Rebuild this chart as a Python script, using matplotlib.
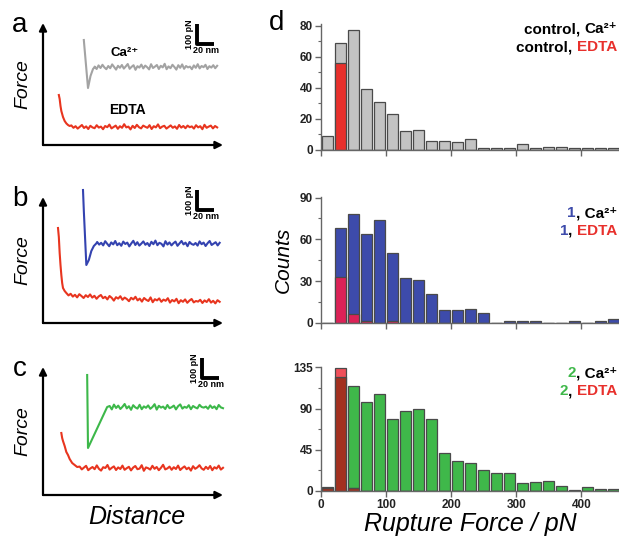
import numpy as np
import matplotlib
matplotlib.use("Agg")
import matplotlib.pyplot as plt
from matplotlib.ticker import MultipleLocator

plt.rcParams['font.family'] = ['Liberation Sans', 'DejaVu Sans']

# ---- histogram data (20 pN bins) ----
bin_centers = np.arange(10, 460, 20)
ctrl_ca = [9, 69, 77, 39, 31, 23, 12, 13, 6, 6, 5, 7, 1, 1, 1, 4, 1, 2, 2, 1, 1, 1, 1]
ctrl_edta = [0, 56, 0, 0, 0, 0, 0, 0, 0, 0, 0, 0, 0, 0, 0, 0, 0, 0, 0, 0, 0, 0, 0]
one_ca = [0, 68, 78, 64, 74, 50, 32, 31, 21, 9, 9, 10, 7, 0, 1, 1, 1, 0, 0, 1, 0, 1.5, 3]
one_edta = [0, 33, 6.5, 1, 0, 1, 0, 0, 0, 0, 0, 0, 0, 0, 0, 0, 0, 0, 0, 0, 0, 0, 0]
two_ca = [4, 124, 115, 97, 106, 78, 87, 89, 79, 41, 32, 30, 23, 19, 19, 8, 9, 11, 5, 1, 4, 1.5, 1.5]
two_edta = [3.3, 134, 3, 0, 0, 0, 0, 0, 0, 0, 0, 0, 0, 0, 0, 0, 0, 0, 0, 0, 0, 0, 0]

# ---- force curves (distance nm, force pN) ----
a_ca_head_x = [49, 49.5, 54, 57, 60, 62]
a_ca_head_y = [525, 500, 285, 345, 380, 390]
a_ca_flat = [392, 380, 398, 385, 401, 388, 379, 395, 384, 403, 390, 377, 396, 386, 400, 382,
             393, 405, 381, 391, 399, 376, 394, 387, 402, 383, 397, 389, 378, 404, 385, 392,
             400, 380, 396, 388, 406, 379, 393, 384, 401, 390, 377, 399, 386, 403, 381, 395,
             388, 392, 379, 398, 386, 404, 383, 395, 389, 401, 380, 394, 387, 399, 384, 396]
a_ed_head_x = [19, 20, 21, 22, 24, 26, 28, 30, 32]
a_ed_head_y = [250, 230, 195, 170, 140, 120, 108, 100, 95]
a_ed_flat = [98, 86, 94, 82, 91, 100, 85, 93, 80, 96, 88, 84, 99, 87, 92, 79, 95, 89, 102, 83,
             90, 97, 81, 94, 86, 104, 88, 92, 78, 96, 85, 101, 89, 83, 97, 91, 86, 99, 80, 94,
             88, 103, 84, 92, 96, 82, 90, 98, 86, 93, 81, 100, 87, 95, 84, 97, 89, 93,
             82, 99, 88, 94, 79, 101, 86, 92, 97, 83, 95, 88]

b_ca_head_x = [48, 49, 52, 55, 58, 61, 64]
b_ca_head_y = [665, 560, 290, 315, 360, 385, 398]
b_ca_flat = [405, 392, 401, 388, 409, 396, 384, 403, 393, 410, 389, 399, 386, 407, 395, 402,
             383, 398, 411, 390, 404, 387, 397, 408, 391, 400, 385, 406, 394, 412, 389, 401,
             396, 383, 409, 392, 403, 388, 399, 407, 386, 398, 410, 393, 402, 384, 405, 395,
             391, 400, 387, 408, 394, 402, 385, 399, 410, 390, 397, 404, 388, 401]
b_ed_head_x = [18, 19, 20, 21, 22, 23, 24, 26]
b_ed_head_y = [475, 430, 350, 290, 240, 200, 175, 160]
b_ed_flat = [150, 138, 146, 132, 141, 128, 144, 135, 125, 139, 130, 143, 127, 136, 121, 133,
             140, 124, 131, 118, 135, 126, 112, 129, 122, 134, 116, 127, 120, 109, 126, 118,
             131, 113, 122, 107, 125, 116, 110, 128, 104, 119, 113, 123, 106, 117, 111, 124,
             102, 115, 108, 121, 99, 114, 106, 118, 101, 112, 120, 103, 110, 107, 116, 100,
             113, 105, 119, 102, 111, 98, 114, 106]

c_ca_head_x = [53, 54, 77]
c_ca_head_y = [600, 235, 440]
c_ca_flat = [445, 428, 452, 435, 447, 430, 441, 455, 433, 444, 426, 449, 438, 432, 451, 429,
             443, 436, 448, 431, 440, 454, 427, 446, 437, 442, 430, 450, 434, 439, 447, 428,
             444, 453, 432, 441, 436, 449, 429, 445, 438, 433, 451, 440, 437, 442, 431, 448,
             435, 443, 429, 450, 438, 434]
c_ed_head_x = [22, 23, 24, 26, 28, 30, 32, 35, 38, 41]
c_ed_head_y = [310, 285, 270, 245, 215, 200, 180, 160, 150, 140]
c_ed_flat = [142, 128, 137, 146, 124, 133, 140, 129, 148, 131, 122, 139, 135, 150, 127, 136,
             143, 125, 138, 130, 147, 126, 134, 141, 123, 137, 145, 129, 132, 149, 121, 138,
             134, 127, 146, 131, 140, 124, 136, 151, 128, 133, 142, 126, 139, 130, 147, 125,
             135, 143, 129, 137, 122, 144, 131, 138, 149, 133, 126, 141, 130, 145, 124, 139,
             132, 147, 127, 136]

W, H = 619, 540
fig = plt.figure(figsize=(W / 100, H / 100), dpi=100)
fig.patch.set_facecolor('white')


def px_axes(x0, y_top, x1, y_bot):
    return fig.add_axes([x0 / W, 1 - y_bot / H, (x1 - x0) / W, (y_bot - y_top) / H])


def curve(hx, hy, flat, x_start, x_end):
    x = np.concatenate([hx, np.linspace(x_start, x_end, len(flat))])
    y = np.concatenate([hy, flat])
    return x, y


red_trace = '#e8351f'
left_panels = [
    # label, top px, bottom px, ylim, Ca trace, EDTA trace, colour, scale corner
    ('a', 23, 145, 610, curve(a_ca_head_x, a_ca_head_y, a_ca_flat, 62, 209),
     curve(a_ed_head_x, a_ed_head_y, a_ed_flat, 34, 209), '#a3a3a3', (185, 505)),
    ('b', 197, 323, 630, curve(b_ca_head_x, b_ca_head_y, b_ca_flat, 65, 212),
     curve(b_ed_head_x, b_ed_head_y, b_ed_flat, 28, 212), '#3443b0', (185, 565)),
    ('c', 367, 495, 640, curve(c_ca_head_x, c_ca_head_y, c_ca_flat, 80, 216),
     curve(c_ed_head_x, c_ed_head_y, c_ed_flat, 44, 216), '#3db84a', (191, 585)),
]

for lab, ytop, ybot, ymax, ca, ed, col, (sx, sy) in left_panels:
    ax = px_axes(43, ytop, 223, ybot)
    ax.set_xlim(0, 216)
    ax.set_ylim(0, ymax)
    ax.axis('off')
    for tip in [(1.0, 0), (0, 1.0)]:
        ax.annotate('', xy=tip, xytext=(0, 0), xycoords='axes fraction',
                    arrowprops=dict(arrowstyle='-|>', color='black', lw=1.6,
                                    mutation_scale=11, shrinkA=0, shrinkB=0))
    ax.plot(*ed, color=red_trace, lw=1.5, clip_on=False)
    ax.plot(*ca, color=col, lw=1.5, clip_on=False)
    # scale bar: 100 pN x 20 nm
    ax.plot([sx, sx, sx + 20], [sy + 100, sy, sy], color='black', lw=2.8,
            solid_capstyle='butt', clip_on=False)
    ax.text(sx - 9, sy + 50, '100 pN', rotation=90, fontsize=6.5, fontweight='bold',
            ha='center', va='center')
    ax.text(sx + 11, sy - 12, '20 nm', fontsize=6.5, fontweight='bold', ha='center', va='top')
    ax.text(-0.11, 0.5, 'Force', rotation=90, fontsize=14, style='italic',
            transform=ax.transAxes, ha='center', va='center')
    fig.text(20 / W, 1 - (ytop + 2) / H, lab, fontsize=20, ha='center', va='center')
    if lab == 'a':
        ax.text(98, 460, 'Ca²⁺', fontsize=9.5, fontweight='bold', ha='center', va='center')
        ax.text(101, 175, 'EDTA', fontsize=10, fontweight='bold', ha='center', va='center')
    if lab == 'c':
        ax.text(0.52, -0.08, 'Distance', fontsize=18, style='italic',
                transform=ax.transAxes, ha='center', va='top')

fig.text(277 / W, 1 - 23 / H, 'd', fontsize=20, ha='center', va='center')

# ---- histograms ----
edge = '#4a4a4a'
hist_panels = [
    (24, 150, 81, 20, ctrl_ca, '#c3c3c3', ctrl_edta, '#e8302c',
     [('control, ', 'black'), ('Ca²⁺', 'black')],
     [('control, ', 'black'), ('EDTA', '#e8302c')], 33, 51),
    (196.5, 322.7, 90.8, 30, one_ca, '#3d4bab', one_edta, '#dc2257',
     [('1', '#3d4bab'), (', Ca²⁺', 'black')],
     [('1', '#3d4bab'), (', ', 'black'), ('EDTA', '#e8302c')], 217, 235),
    (366.5, 490.7, 136, 45, two_ca, '#3fb84a', two_edta, None,
     [('2', '#3fb84a'), (', Ca²⁺', 'black')],
     [('2', '#3fb84a'), (', ', 'black'), ('EDTA', '#e8302c')], 377, 395),
]

for i, (ytop, ybot, ymax, step, main, mcol, red, rcol, leg1, leg2, b1, b2) in enumerate(hist_panels):
    ax = px_axes(321, ytop, 619, ybot)
    ax.set_xlim(0, 458)
    ax.set_ylim(0, ymax)
    ax.bar(bin_centers, main, width=17, color=mcol, edgecolor=edge, linewidth=0.9)
    if rcol is not None:
        ax.bar(bin_centers, red, width=17, color=rcol, edgecolor=edge, linewidth=0.9)
    else:
        dark = np.minimum(red, main)
        light = np.array(red) - dark
        ax.bar(bin_centers, dark, width=17, color='#a3301f', edgecolor=edge, linewidth=0.9)
        ax.bar(bin_centers, light, bottom=dark, width=17, color='#f0505a',
               edgecolor=edge, linewidth=0.9)
    for s in ['top', 'right']:
        ax.spines[s].set_visible(False)
    for s in ['left', 'bottom']:
        ax.spines[s].set_color('#666666')
        ax.spines[s].set_linewidth(1.0)
    ax.yaxis.set_major_locator(MultipleLocator(step))
    ax.yaxis.set_minor_locator(MultipleLocator(step / 2))
    ax.xaxis.set_major_locator(MultipleLocator(100))
    ax.tick_params(axis='both', which='major', length=4, width=1, color='#666666',
                   labelsize=8.5, pad=2)
    ax.tick_params(axis='y', which='minor', length=2.5, width=0.8, color='#666666')
    for t in ax.get_yticklabels() + ax.get_xticklabels():
        t.set_fontweight('bold')
        t.set_color('#222222')
    if i < 2:
        ax.tick_params(axis='x', labelbottom=False)
    else:
        ax.set_xlabel('Rupture Force / pN', fontsize=18, style='italic', labelpad=1)
    if i == 1:
        ax.set_ylabel('Counts', fontsize=15, style='italic', labelpad=5)

    # multicolour right-aligned legend lines
    for pieces, base in [(leg1, b1), (leg2, b2)]:
        txt, col = pieces[-1]
        prev = fig.text(617 / W, 1 - base / H, txt, color=col, fontsize=11,
                        fontweight='bold', ha='right', va='baseline')
        for txt, col in reversed(pieces[:-1]):
            prev = ax.annotate(txt, xy=(0, 0), xycoords=prev, color=col, fontsize=11,
                               fontweight='bold', ha='right', va='bottom',
                               annotation_clip=False)

fig.savefig('out.png', dpi=100, facecolor='white')
